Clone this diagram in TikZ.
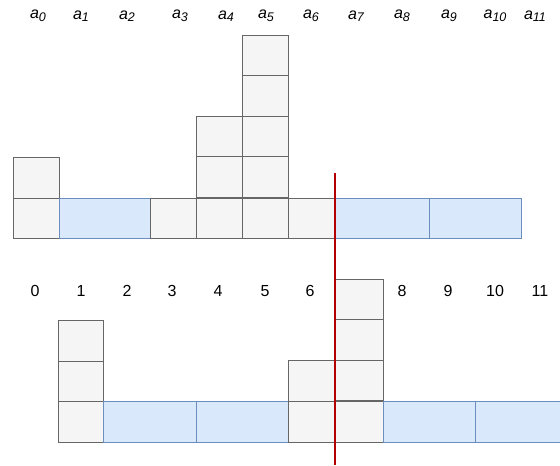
\documentclass[tikz,border=0pt]{standalone}
\usepackage{fontspec}
\setmainfont{Liberation Sans}
\definecolor{gfill}{HTML}{F5F5F5}
\definecolor{gline}{HTML}{666666}
\definecolor{bfill}{HTML}{DAE8FC}
\definecolor{bline}{HTML}{6C8EBF}
\definecolor{redl}{HTML}{B20000}
\tikzset{
  gcell/.style={draw=gline, fill=gfill, line width=1pt, inner sep=0pt, outer sep=0pt, anchor=north west, minimum width=46pt, minimum height=40.6pt},
  bcell/.style={draw=bline, fill=bfill, line width=1pt, inner sep=0pt, outer sep=0pt, anchor=north west, minimum width=92pt, minimum height=40.6pt},
  alab/.style={font=\fontsize{16}{18}\selectfont\itshape, inner sep=0pt},
  nlab/.style={font=\fontsize{16}{18}\selectfont, inner sep=0pt},
  cut/.style={draw=redl, line width=2.5pt}
}
\newcommand{\asub}[1]{a\raisebox{-0.3ex}{\fontsize{12.5}{13}\selectfont #1}}
\begin{document}
\begin{tikzpicture}[x=1pt,y=-1pt]
\clip (0,0) rectangle (560,466);
\fill[white] (0,0) rectangle (560,466);
% top labels
\node[alab] (la0) at (38,16) {\asub{0}};
\node[alab] (la1) at (81,16) {\asub{1}};
\node[alab] (la2) at (127,16) {\asub{2}};
\node[alab] (la3) at (180,16) {\asub{3}};
\node[alab] (la4) at (226,16) {\asub{4}};
\node[alab] (la5) at (266,16) {\asub{5}};
\node[alab] (la6) at (311,16) {\asub{6}};
\node[alab] (la7) at (356,16) {\asub{7}};
\node[alab] (la8) at (402,16) {\asub{8}};
\node[alab] (la9) at (449,16) {\asub{9}};
\node[alab] (la10) at (495,16) {\asub{10}};
\node[alab] (la11) at (535,16) {\asub{11}};
% top cells
\node[gcell] (t0a) at (13,157.4) {};
\node[gcell] (t0b) at (13,198) {};
\node[bcell, minimum width=91pt] (t12) at (59,198) {};
\node[gcell] (t3) at (150,198) {};
\node[gcell] (t4a) at (196,116.2) {};
\node[gcell] (t4b) at (196,156.8) {};
\node[gcell] (t4c) at (196,198) {};
\node[gcell] (t5a) at (242,35) {};
\node[gcell] (t5b) at (242,75.6) {};
\node[gcell] (t5c) at (242,116.2) {};
\node[gcell] (t5d) at (242,156.8) {};
\node[gcell] (t5e) at (242,198) {};
\node[gcell] (t6) at (288,198) {};
\node[bcell, minimum width=95pt] (t78) at (334,198) {};
\node[bcell] (t910) at (429,198) {};
% bottom labels
\node[nlab] (n0) at (35,291) {0};
\node[nlab] (n1) at (81,291) {1};
\node[nlab] (n2) at (127,291) {2};
\node[nlab] (n3) at (172,291) {3};
\node[nlab] (n4) at (218,291) {4};
\node[nlab] (n5) at (265,291) {5};
\node[nlab] (n6) at (310,291) {6};
\node[nlab] (n8) at (402,291) {8};
\node[nlab] (n9) at (448,291) {9};
\node[nlab] (n10) at (495,291) {10};
\node[nlab] (n11) at (540,291) {11};
% bottom cells
\node[gcell, minimum width=45pt] (b1a) at (58,320.6) {};
\node[gcell, minimum width=45pt] (b1b) at (58,361) {};
\node[gcell, minimum width=45pt] (b1c) at (58,401.5) {};
\node[bcell, minimum width=93pt] (b23) at (103,401.5) {};
\node[bcell] (b45) at (196,401.5) {};
\node[gcell] (b6a) at (288,360.8) {};
\node[gcell] (b6b) at (288,401.5) {};
\node[gcell, minimum width=49pt] (b7a) at (334,279) {};
\node[gcell, minimum width=49pt] (b7b) at (334,319.6) {};
\node[gcell, minimum width=49pt] (b7c) at (334,360.2) {};
\node[gcell, minimum width=49pt] (b7d) at (334,401.5) {};
\node[bcell] (b89) at (383,401.5) {};
\node[bcell] (b1011) at (475,401.5) {};
% red line
\coordinate (rtop) at (335,173);
\coordinate (rbot) at (335,465);
\draw[cut] (rtop) -- (rbot);
\end{tikzpicture}
\end{document}
